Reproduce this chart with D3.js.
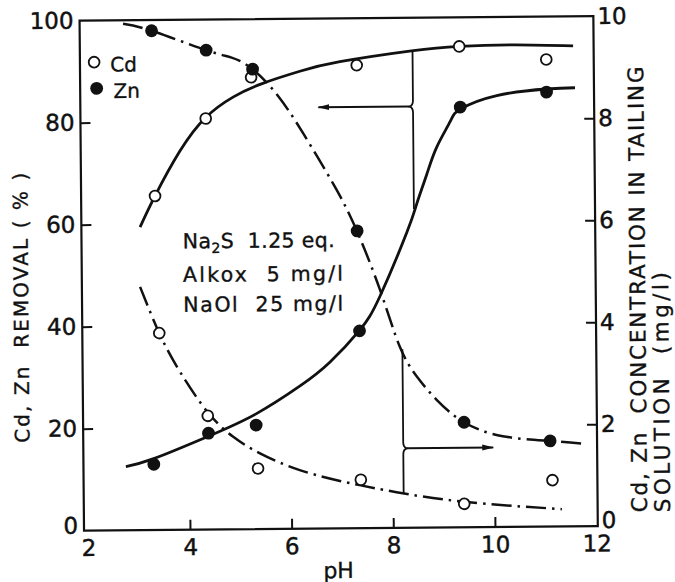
<!DOCTYPE html>
<html>
<head>
<meta charset="utf-8">
<script src="https://cdn.jsdelivr.net/npm/d3@7"></script>
<style>
  body { margin: 0; background: #fff; }
  svg { display: block; }
</style>
</head>
<body>
<svg id="chart" width="675" height="582"></svg>
<script>
// ---- axis ticks ----
const pHTicks = [2, 4, 6, 8, 10, 12];
const removalTicks = [0, 20, 40, 60, 80, 100];
const concTicks = [0, 2, 4, 6, 8, 10];

// ---- measured removal (%) ----
const cdRemovalPH = [3.37, 4.38, 5.28, 7.36, 9.38, 11.09];
const cdRemoval   = [65.5, 80.6, 88.6, 90.8, 94.3, 91.6];
const znRemovalPH = [3.30, 4.38, 5.32, 7.37, 9.39, 11.09];
const znRemoval   = [12.9, 18.9, 20.4, 38.7, 82.4, 85.2];

// ---- measured concentration in tailing solution (mg/l) ----
const cdConcPH = [3.43, 4.37, 5.35, 7.37, 9.40, 11.14];
const cdConc   = [3.86, 2.23, 1.19, 0.95, 0.46, 0.91];
const znConcPH = [3.33, 4.40, 5.31, 7.34, 9.41, 11.10];
const znConc   = [9.79, 9.40, 9.02, 5.83, 2.06, 1.68];

// ---- hand-drawn trend curves ----
const cdRemovalCurvePH = [3.07, 3.37, 3.87, 4.38, 4.93, 5.51, 6.24, 7.03, 8.44, 9.38, 10.44, 11.62];
const cdRemovalCurve   = [59.4, 65.5, 74.3, 80.8, 84.8, 87.4, 89.7, 91.5, 93.5, 94.3, 94.5, 94.2];
const znRemovalCurvePH = [2.75, 3.30, 4.38, 5.32, 6.19, 6.78, 7.37, 7.78, 8.32, 8.52, 8.72, 8.92, 9.19, 9.39, 10.11, 11.09, 11.65];
const znRemovalCurve   = [12.5, 14.0, 18.3, 22.6, 28.0, 32.6, 38.8, 45.5, 58.0, 63.6, 69.3, 74.6, 79.6, 82.0, 84.6, 85.8, 86.0];
const cdConcCurvePH = [3.06, 3.43, 3.83, 4.37, 4.86, 5.40, 6.17, 6.96, 7.37, 8.07, 9.40, 11.32];
const cdConcCurve   = [4.77, 3.86, 3.10, 2.30, 1.82, 1.48, 1.15, 0.93, 0.84, 0.70, 0.50, 0.34];
const znConcCurvePH = [2.77, 3.33, 4.40, 4.90, 5.31, 5.80, 6.29, 6.87, 7.30, 7.78, 8.16, 8.50, 8.88, 9.41, 10.17, 11.10, 11.82];
const znConcCurve   = [9.93, 9.79, 9.40, 9.25, 9.02, 8.50, 7.76, 6.77, 5.91, 4.67, 3.55, 2.95, 2.50, 2.06, 1.78, 1.68, 1.61];

// ---- guide arrows: which curve belongs to which axis ----
const removalGuide = { pH: 8.46, from: 93.5, to: 62.5, level: 82.6, tipPH: 6.6 };
const concGuide    = { pH: 8.21, from: 3.50, to: 0.68, level: 1.56, tipPH: 9.98 };

const zip = (xs, ys) => xs.map((v, i) => [v, ys[i]]);

const svg = d3.select("#chart");
svg.append("rect").attr("width", 675).attr("height", 582).attr("fill", "#fff");

const defs = svg.append("defs");
defs.append("marker")
  .attr("id", "head")
  .attr("markerUnits", "userSpaceOnUse")
  .attr("markerWidth", 12).attr("markerHeight", 7)
  .attr("refX", 11).attr("refY", 3.5)
  .attr("orient", "auto")
  .append("path").attr("d", "M0,0.5 L12,3.5 L0,6.5 Z").attr("fill", "#111");

// the whole figure sits slightly askew on the page
const g = svg.append("g").attr("transform", "rotate(-0.5,340,275)");

const frame = { left: 81.8, right: 595.6, top: 18.4, bottom: 528.4 };
const x  = d3.scaleLinear().domain([2, 12]).range([86.1, 594.4]);
const yL = d3.scaleLinear().domain([0, 100]).range([frame.bottom, frame.top]);
const yR = d3.scaleLinear().domain([0, 10]).range([frame.bottom, frame.top]);

const ink = "#111";
const font = "'DejaVu Sans', sans-serif";

// ---- frame ----
g.append("rect")
  .attr("x", frame.left).attr("y", frame.top)
  .attr("width", frame.right - frame.left).attr("height", frame.bottom - frame.top)
  .attr("fill", "none").attr("stroke", ink).attr("stroke-width", 2.2);

// ---- axes (ticks point inward) ----
function styleAxis(sel) {
  sel.select(".domain").remove();
  sel.selectAll(".tick line").attr("stroke", ink).attr("stroke-width", 2);
  sel.selectAll(".tick text")
    .attr("fill", ink).attr("stroke", ink).attr("stroke-width", 0.45)
    .attr("font-family", font).attr("font-size", 23);
}

const xAxis = g.append("g")
  .attr("transform", `translate(0,${frame.bottom})`)
  .call(d3.axisBottom(x).tickValues(pHTicks).tickSize(-10).tickPadding(9).tickFormat(d3.format("d")))
  .call(styleAxis);
xAxis.selectAll(".tick").filter(d => d === 2 || d === 12).select("line").remove();

const yAxisL = g.append("g")
  .attr("transform", `translate(${frame.left},0)`)
  .call(d3.axisLeft(yL).tickValues(removalTicks).tickSize(-10).tickPadding(6).tickFormat(d3.format("d")))
  .call(styleAxis);
yAxisL.selectAll(".tick").filter(d => d === 0 || d === 100).select("line").remove();

const yAxisR = g.append("g")
  .attr("transform", `translate(${frame.right},0)`)
  .call(d3.axisRight(yR).tickValues(concTicks).tickSize(-10).tickPadding(4).tickFormat(d3.format("d")))
  .call(styleAxis);
yAxisR.selectAll(".tick").filter(d => d === 0 || d === 10).select("line").remove();

// zero labels sit a little above the baseline, clear of the pH numbers
yAxisL.selectAll(".tick").filter(d => d === 0).select("text").attr("y", -5);
yAxisR.selectAll(".tick").filter(d => d === 0).select("text").attr("y", -6);

// ---- axis titles ----
function title(sel) {
  return sel.attr("font-family", font).attr("fill", ink)
    .attr("stroke", ink).attr("stroke-width", 0.35)
    .attr("lengthAdjust", "spacing")
    .attr("xml:space", "preserve").style("white-space", "pre");
}

g.append("text").call(title)
  .attr("x", 336).attr("y", 578)
  .attr("text-anchor", "middle").attr("font-size", 22)
  .text("pH");

g.append("text").call(title)
  .attr("transform", "translate(28,440) rotate(-90)")
  .attr("font-size", 20).attr("textLength", 270)
  .text("Cd, Zn  REMOVAL ( % )");

g.append("text").call(title)
  .attr("transform", "translate(645,515) rotate(-90)")
  .attr("font-size", 21.5).attr("textLength", 446)
  .text("Cd, Zn  CONCENTRATION IN TAILING");

g.append("text").call(title)
  .attr("transform", "translate(668,515) rotate(-90)")
  .attr("font-size", 21.5).attr("textLength", 240)
  .text("SOLUTION  (mg/l)");

// ---- curves ----
const lineL = d3.line().x(d => x(d[0])).y(d => yL(d[1])).curve(d3.curveNatural);
const lineR = d3.line().x(d => x(d[0])).y(d => yR(d[1])).curve(d3.curveNatural);
const dashDot = "20,6,2.5,6";

g.append("path").attr("d", lineL(zip(cdRemovalCurvePH, cdRemovalCurve)))
  .attr("fill", "none").attr("stroke", ink).attr("stroke-width", 2.8);
g.append("path").attr("d", lineL(zip(znRemovalCurvePH, znRemovalCurve)))
  .attr("fill", "none").attr("stroke", ink).attr("stroke-width", 2.8);
g.append("path").attr("d", lineR(zip(cdConcCurvePH, cdConcCurve)))
  .attr("fill", "none").attr("stroke", ink).attr("stroke-width", 2.5)
  .attr("stroke-dasharray", dashDot);
g.append("path").attr("d", lineR(zip(znConcCurvePH, znConcCurve)))
  .attr("fill", "none").attr("stroke", ink).attr("stroke-width", 2.5)
  .attr("stroke-dasharray", dashDot);

// ---- guide arrows ----
function guide(gd, yScale, dir) {
  const vx = x(gd.pH), top = yScale(gd.from), bot = yScale(gd.to), ky = yScale(gd.level);
  const k = 3.5 * dir;
  g.append("path")
    .attr("d", `M${vx},${top} L${vx},${ky - 6} Q${vx},${ky - 1} ${vx + k},${ky} Q${vx},${ky + 1} ${vx},${ky + 6} L${vx},${bot}`)
    .attr("fill", "none").attr("stroke", ink).attr("stroke-width", 1.8);
  g.append("line")
    .attr("x1", vx + k).attr("y1", ky).attr("x2", x(gd.tipPH)).attr("y2", ky)
    .attr("stroke", ink).attr("stroke-width", 2).attr("marker-end", "url(#head)");
}
guide(removalGuide, yL, -1);
guide(concGuide, yR, 1);

// ---- data markers ----
function openDots(pts, yScale) {
  g.selectAll(null).data(pts).join("circle")
    .attr("cx", d => x(d[0])).attr("cy", d => yScale(d[1])).attr("r", 5.4)
    .attr("fill", "#fff").attr("stroke", ink).attr("stroke-width", 1.8);
}
function filledDots(pts, yScale) {
  g.selectAll(null).data(pts).join("circle")
    .attr("cx", d => x(d[0])).attr("cy", d => yScale(d[1])).attr("r", 6.4)
    .attr("fill", ink);
}
openDots(zip(cdRemovalPH, cdRemoval), yL);
openDots(zip(cdConcPH, cdConc), yR);
filledDots(zip(znRemovalPH, znRemoval), yL);
filledDots(zip(znConcPH, znConc), yR);

// ---- legend ----
g.append("circle").attr("cx", 96).attr("cy", 60).attr("r", 5.4)
  .attr("fill", "#fff").attr("stroke", ink).attr("stroke-width", 1.8);
g.append("text").call(title).attr("x", 112).attr("y", 69.5)
  .attr("font-size", 20).text("Cd");
g.append("circle").attr("cx", 98.3).attr("cy", 86.2).attr("r", 6.4).attr("fill", ink);
g.append("text").call(title).attr("x", 115).attr("y", 96)
  .attr("font-size", 20).text("Zn");

// ---- conditions note ----
const l1 = g.append("text").call(title).attr("x", 183).attr("y", 247)
  .attr("font-size", 20.5).attr("textLength", 152);
l1.append("tspan").text("Na");
l1.append("tspan").attr("font-size", 14).attr("dy", 5).text("2");
l1.append("tspan").attr("dy", -5).text("S  1.25 eq.");
g.append("text").call(title).attr("x", 183).attr("y", 280.5)
  .attr("font-size", 20.5).attr("textLength", 160)
  .text("Alkox  5 mg/l");
g.append("text").call(title).attr("x", 183).attr("y", 310.5)
  .attr("font-size", 20.5).attr("textLength", 160)
  .text("NaOl  25 mg/l");
</script>
</body>
</html>
